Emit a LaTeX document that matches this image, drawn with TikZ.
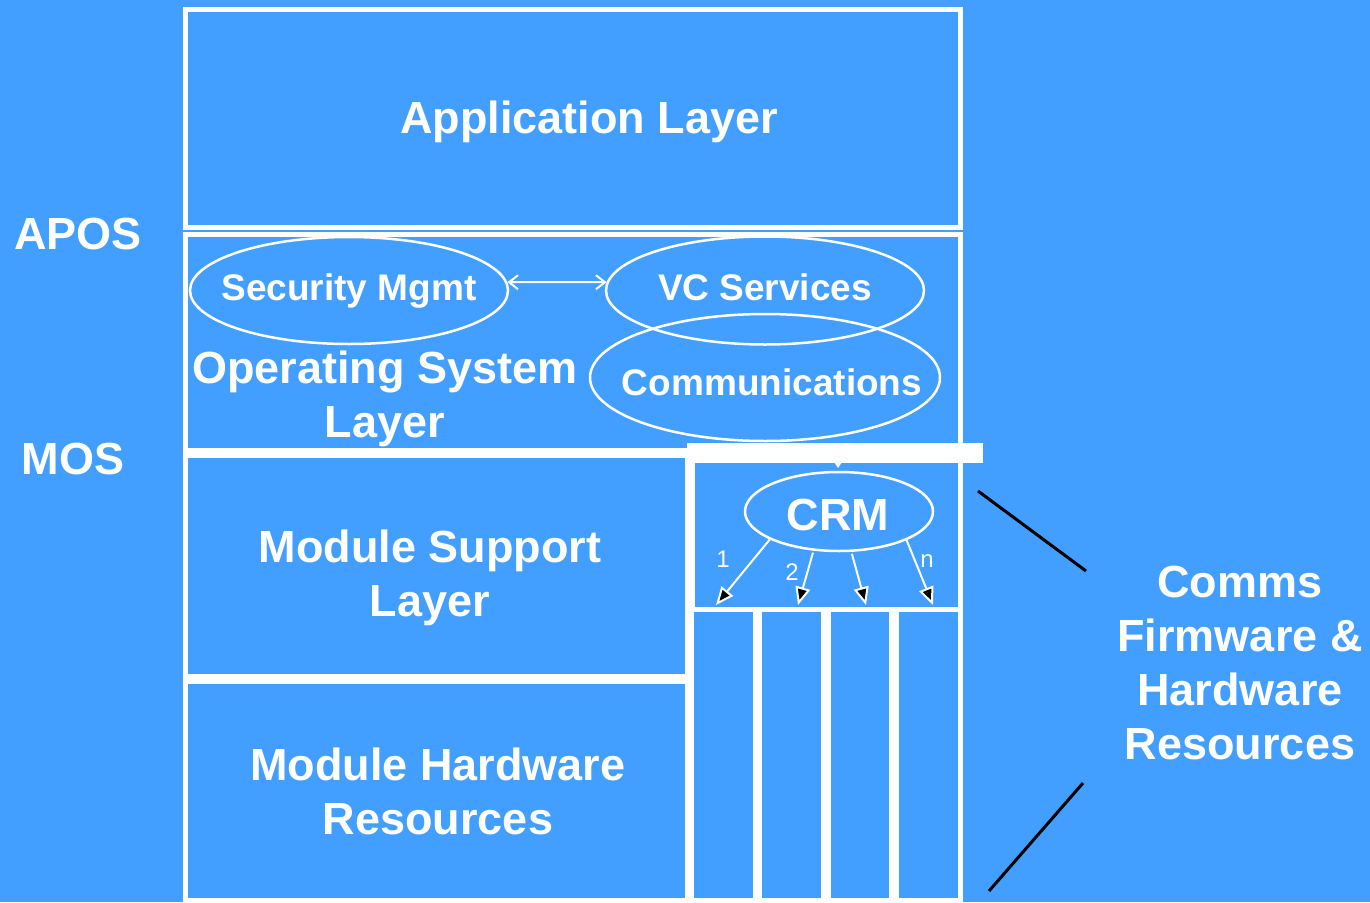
\documentclass[tikz,border=0pt]{standalone}
\usepackage{fontspec}
\setmainfont{Liberation Sans}
\usetikzlibrary{arrows.meta,shapes.geometric}
\definecolor{slate}{RGB}{66,159,255}

\begin{document}
\begin{tikzpicture}[x=1pt,y=-1pt,
  frame/.style={draw=white,line width=5pt},
  oval/.style={ellipse,draw=white,line width=2.5pt,inner sep=0pt},
  big/.style={text=white,font=\fontsize{45}{54}\selectfont\bfseries,align=center,inner sep=0pt},
  mid/.style={text=white,font=\fontsize{37}{44}\selectfont\bfseries,inner sep=0pt},
  small/.style={text=white,font=\fontsize{24}{28}\selectfont,inner sep=0pt},
  crmarrow/.style={draw=white,line width=2pt,-{Triangle[length=18pt,width=15pt,fill=black]}},
  linkarrow/.style={draw=white,line width=2pt,{Straight Barb[length=9pt,width=14pt]}-{Straight Barb[length=9pt,width=14pt]}},
  pointer/.style={draw=black,line width=3pt}]

\fill[slate] (0,0) rectangle (1370,902);
\useasboundingbox (0,0) rectangle (1370,902);

% layer boxes
\draw[frame] (185,9.5) rectangle (960,227.5);
\draw[frame] (185,234) rectangle (960,450);
\draw[frame] (185,455) rectangle (687.5,676.5);
\draw[frame] (185,681.5) rectangle (687.5,900.5);

% comms resource manager box and its channel columns
\draw[frame] (692,455) rectangle (960,609);
\draw[frame] (691.5,609) rectangle (755.5,900.5);
\draw[frame] (759.5,609) rectangle (823,900.5);
\draw[frame] (828,609) rectangle (891,900.5);
\draw[frame] (896,609) rectangle (960,900.5);

% interface bar above the CRM box
\fill[white] (687,443) rectangle (983,463);
\fill[white] (834,462) -- (842,462) -- (838,468) -- cycle;

% service ovals
\node[oval,minimum width=318pt,minimum height=107pt] (sec) at (349,290.5) {};
\node[oval,minimum width=318pt,minimum height=108pt] (vc) at (765,290.5) {};
\node[oval,minimum width=350pt,minimum height=127pt] (comm) at (765,377.5) {};
\node[oval,minimum width=188pt,minimum height=79pt] (crm) at (839,511.5) {};

% labels
\node[mid,anchor=base] (secT) at (349,300) {Security Mgmt};
\node[mid,anchor=base] (vcT) at (765,300) {VC Services};
\node[mid,anchor=base] (commT) at (772,395) {Communications};
\node[big,anchor=base] (crmT) at (838,530) {CRM};
\node[big,anchor=base] (app) at (589,133) {Application Layer};
\node[big,anchor=base] (apos) at (78,249) {APOS};
\node[big,anchor=base] (mos) at (73,474) {MOS};
\node[big] (osl) at (385,398.5) {Operating System\\Layer};
\node[big] (msl) at (430,577.5) {Module Support\\Layer};
\node[big] (mhr) at (438,791.5) {Module Hardware\\Resources};
\node[big] (comms) at (1240,663) {Comms\\Firmware \&\\Hardware\\Resources};

% channel numbers
\node[small,anchor=base] (n1) at (723,567) {1};
\node[small,anchor=base] (n2) at (792,580) {2};
\node[small,anchor=base] (nn) at (927,567) {n};

% security <-> VC services link
\draw[linkarrow] (sec.3) -- (vc.177);

% CRM fan-out to the channels
\coordinate (t1) at (716,605);
\coordinate (t2) at (798,605);
\coordinate (t3) at (866,605);
\coordinate (t4) at (933,605);
\draw[crmarrow] (crm.202) -- (t1);
\draw[crmarrow,shorten <=2pt] (crm.237) -- (t2);
\draw[crmarrow,shorten <=2pt] (crm.287) -- (t3);
\draw[crmarrow] (crm.337) -- (t4);

% pointer lines toward the comms resources
\coordinate (p1) at (978,491);
\coordinate (p2) at (1086,571);
\coordinate (p3) at (1083,783);
\coordinate (p4) at (989,891);
\draw[pointer] (p1) -- (p2);
\draw[pointer] (p3) -- (p4);

\end{tikzpicture}
\end{document}
